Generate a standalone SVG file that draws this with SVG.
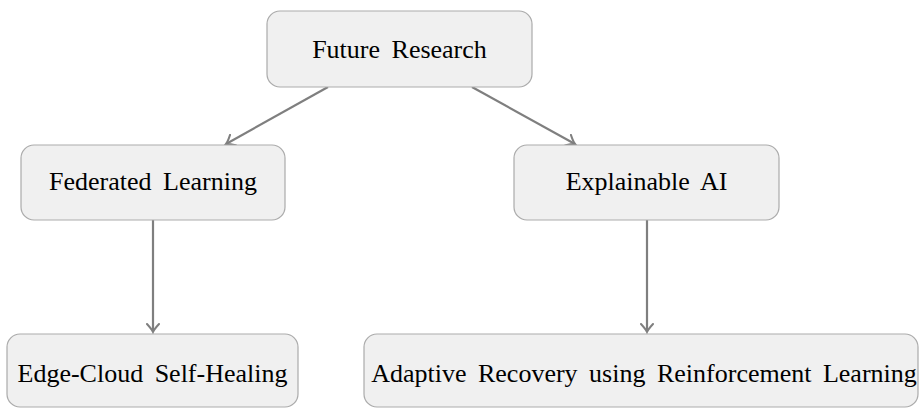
<svg xmlns="http://www.w3.org/2000/svg" width="919" height="408" viewBox="0 0 919 408">
<defs>
<style>
.box{fill:#f0f0f0;stroke:#ababab;stroke-width:1.2}
.lbl{font-family:"Liberation Serif","Times New Roman",serif;font-size:26px;fill:#000;text-anchor:middle;word-spacing:5px}
.edge{stroke:#7f7f7f;stroke-width:2.2;fill:none}
</style>
<marker id="arr" viewBox="-9 -7 11 14" markerWidth="11" markerHeight="14" refX="0" refY="0" orient="auto" markerUnits="userSpaceOnUse">
<path d="M-8,-6 Q-2.5,-1 0,0 Q-2.5,1 -8,6" fill="none" stroke="#7f7f7f" stroke-width="2" stroke-linecap="round"/>
</marker>
</defs>
<rect width="919" height="408" fill="#ffffff"/>
<g id="connectors">
<line class="edge" x1="328" y1="87" x2="226" y2="144" marker-end="url(#arr)"/>
<line class="edge" x1="472" y1="87" x2="575" y2="144" marker-end="url(#arr)"/>
<line class="edge" x1="153" y1="220" x2="153" y2="332" marker-end="url(#arr)"/>
<line class="edge" x1="647" y1="220" x2="647" y2="332" marker-end="url(#arr)"/>
</g>
<g id="future-research">
<rect class="box" x="267" y="11" width="265" height="76" rx="13"/>
<text class="lbl" x="399.5" y="58" font-family="Liberation Serif, serif">Future Research</text>
</g>
<g id="federated-learning">
<rect class="box" x="21" y="145" width="264" height="75" rx="13"/>
<text class="lbl" x="153" y="190" font-family="Liberation Serif, serif">Federated Learning</text>
</g>
<g id="explainable-ai">
<rect class="box" x="514" y="145" width="265" height="75" rx="13"/>
<text class="lbl" x="646.5" y="190" font-family="Liberation Serif, serif">Explainable AI</text>
</g>
<g id="edge-cloud">
<rect class="box" x="7" y="334" width="291" height="73" rx="13"/>
<text class="lbl" x="152.5" y="382" font-family="Liberation Serif, serif">Edge-Cloud Self-Healing</text>
</g>
<g id="adaptive-recovery">
<rect class="box" x="364" y="334" width="554" height="73" rx="13"/>
<text class="lbl" x="644" y="382" font-family="Liberation Serif, serif">Adaptive Recovery using Reinforcement Learning</text>
</g>
</svg>
